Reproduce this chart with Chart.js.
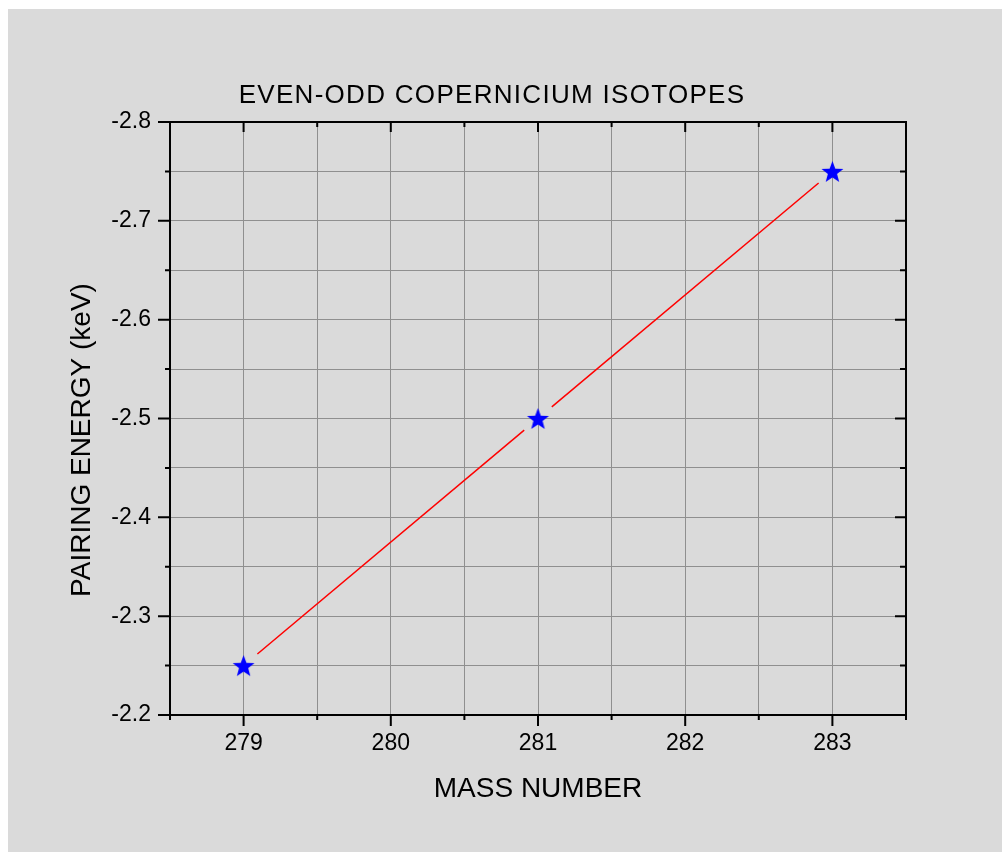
<!DOCTYPE html>
<html>
<head>
<meta charset="utf-8">
<title>Even-odd copernicium isotopes</title>
<script src="https://cdn.jsdelivr.net/npm/chart.js@4"></script>
<style>
  html, body { margin: 0; padding: 0; background: #ffffff; }
  canvas { display: block; }
</style>
</head>
<body>
<canvas id="pairingChart" width="1002" height="852"></canvas>
<script>
// mass numbers and pairing energies (keV)
const massNumbers = [279, 281, 283];
const pairingEnergy = [-2.25, -2.5, -2.75];

const xTickLabels = ["279", "280", "281", "282", "283"];
const yTickLabels = ["-2.8", "-2.7", "-2.6", "-2.5", "-2.4", "-2.3", "-2.2"];

const chartTitle = "EVEN-ODD COPERNICIUM ISOTOPES";
const xTitle = "MASS NUMBER";
const yTitle = "PAIRING ENERGY (keV)";

const FONT = "'Liberation Sans', Arial, Helvetica, sans-serif";
const BG = "#dadada";

// five-pointed star used as the point marker
function makeStar(r, color) {
  const c = document.createElement("canvas");
  const size = Math.ceil(r * 2 + 2);
  c.width = size;
  c.height = size;
  const g = c.getContext("2d");
  const cx = size / 2;
  const cy = size / 2 + r * 0.095;
  const inner = r * 0.42;
  g.beginPath();
  for (let i = 0; i < 10; i++) {
    const rad = i % 2 === 0 ? r : inner;
    const a = -Math.PI / 2 + i * Math.PI / 5;
    const px = cx + rad * Math.cos(a);
    const py = cy + rad * Math.sin(a);
    if (i === 0) g.moveTo(px, py);
    else g.lineTo(px, py);
  }
  g.closePath();
  g.fillStyle = color;
  g.fill();
  return c;
}

const starMarker = makeStar(11.5, "#0000ff");

function isMajor(v, step) {
  const q = v / step;
  return Math.abs(q - Math.round(q)) < 1e-6;
}

// page background: thin white strip on top/left, grey panel elsewhere
const backdrop = {
  id: "backdrop",
  beforeDraw(chart) {
    const ctx = chart.ctx;
    ctx.save();
    ctx.fillStyle = "#ffffff";
    ctx.fillRect(0, 0, chart.width, chart.height);
    ctx.fillStyle = BG;
    ctx.fillRect(8, 9, chart.width - 8, chart.height - 9);
    ctx.restore();
  }
};

// connecting line that stops short of each marker
const gappedLine = {
  id: "gappedLine",
  beforeDatasetsDraw(chart) {
    const pts = chart.getDatasetMeta(0).data;
    const ctx = chart.ctx;
    const gap = 18;
    ctx.save();
    ctx.strokeStyle = "#ff0000";
    ctx.lineWidth = 1.5;
    for (let i = 0; i < pts.length - 1; i++) {
      const a = pts[i], b = pts[i + 1];
      const dx = b.x - a.x, dy = b.y - a.y;
      const len = Math.hypot(dx, dy);
      if (len <= gap * 2) continue;
      const ux = dx / len, uy = dy / len;
      ctx.beginPath();
      ctx.moveTo(a.x + ux * gap, a.y + uy * gap);
      ctx.lineTo(b.x - ux * gap, b.y - uy * gap);
      ctx.stroke();
    }
    ctx.restore();
  }
};

// frame, tick marks and titles
const frame = {
  id: "frame",
  afterDraw(chart) {
    const ctx = chart.ctx;
    const { left, right, top, bottom } = chart.chartArea;
    const xs = chart.scales.x, ys = chart.scales.y;
    ctx.save();
    ctx.strokeStyle = "#000000";
    ctx.lineWidth = 2;
    ctx.lineCap = "square";
    ctx.strokeRect(left, top, right - left, bottom - top);

    ctx.beginPath();
    xs.ticks.forEach(t => {
      const px = xs.getPixelForValue(t.value);
      const major = isMajor(t.value, 1);
      // bottom: outward, top: inward
      ctx.moveTo(px, bottom);
      ctx.lineTo(px, bottom + (major ? 11 : 5));
      ctx.moveTo(px, top);
      ctx.lineTo(px, top + (major ? 10 : 5));
    });
    ys.ticks.forEach(t => {
      const py = ys.getPixelForValue(t.value);
      const major = isMajor(t.value, 0.1);
      // left: outward, right: inward
      ctx.moveTo(left, py);
      ctx.lineTo(left - (major ? 12 : 5), py);
      ctx.moveTo(right, py);
      ctx.lineTo(right - (major ? 11 : 6), py);
    });
    ctx.lineCap = "butt";
    ctx.stroke();

    ctx.fillStyle = "#000000";
    ctx.textAlign = "center";
    ctx.textBaseline = "middle";

    ctx.font = "26px " + FONT;
    ctx.letterSpacing = "1.3px";
    ctx.fillText(chartTitle, 492, 96);
    ctx.letterSpacing = "0px";

    ctx.font = "28px " + FONT;
    ctx.fillText(xTitle, 538, 789);

    ctx.translate(81, 440);
    ctx.rotate(-Math.PI / 2);
    ctx.fillText(yTitle, 0, 1);
    ctx.restore();
  }
};

new Chart(document.getElementById("pairingChart"), {
  type: "scatter",
  data: {
    datasets: [{
      label: yTitle,
      data: massNumbers.map((m, i) => ({ x: m, y: pairingEnergy[i] })),
      showLine: false,
      pointStyle: starMarker,
      pointRadius: 11,
      pointHoverRadius: 11,
      backgroundColor: "#0000ff",
      borderColor: "#0000ff"
    }]
  },
  options: {
    responsive: false,
    animation: false,
    events: [],
    layout: { padding: { top: 122, right: 96, left: 0, bottom: 0 } },
    plugins: {
      legend: { display: false },
      tooltip: { enabled: false },
      title: { display: false }
    },
    scales: {
      x: {
        type: "linear",
        min: 278.5,
        max: 283.5,
        afterFit(scale) { scale.height = 137; },
        border: { display: false },
        grid: { color: "#8f8f8f", lineWidth: 1, drawTicks: false },
        ticks: {
          stepSize: 0.5,
          padding: 15,
          color: "#000000",
          font: { family: FONT, size: 23 },
          autoSkip: false,
          maxRotation: 0,
          callback(v) {
            if (!isMajor(v, 1)) return "";
            return xTickLabels[Math.round(v) - 279] || "";
          }
        }
      },
      y: {
        type: "linear",
        reverse: true,
        min: -2.8,
        max: -2.2,
        afterFit(scale) { scale.width = 170; },
        border: { display: false },
        grid: { color: "#8f8f8f", lineWidth: 1, drawTicks: false },
        ticks: {
          stepSize: 0.05,
          padding: 19,
          color: "#000000",
          font: { family: FONT, size: 23 },
          autoSkip: false,
          callback(v) {
            if (!isMajor(v, 0.1)) return "";
            const idx = Math.round((v + 2.8) * 10);
            return yTickLabels[idx] || "";
          }
        }
      }
    }
  },
  plugins: [backdrop, gappedLine, frame]
});
</script>
</body>
</html>
